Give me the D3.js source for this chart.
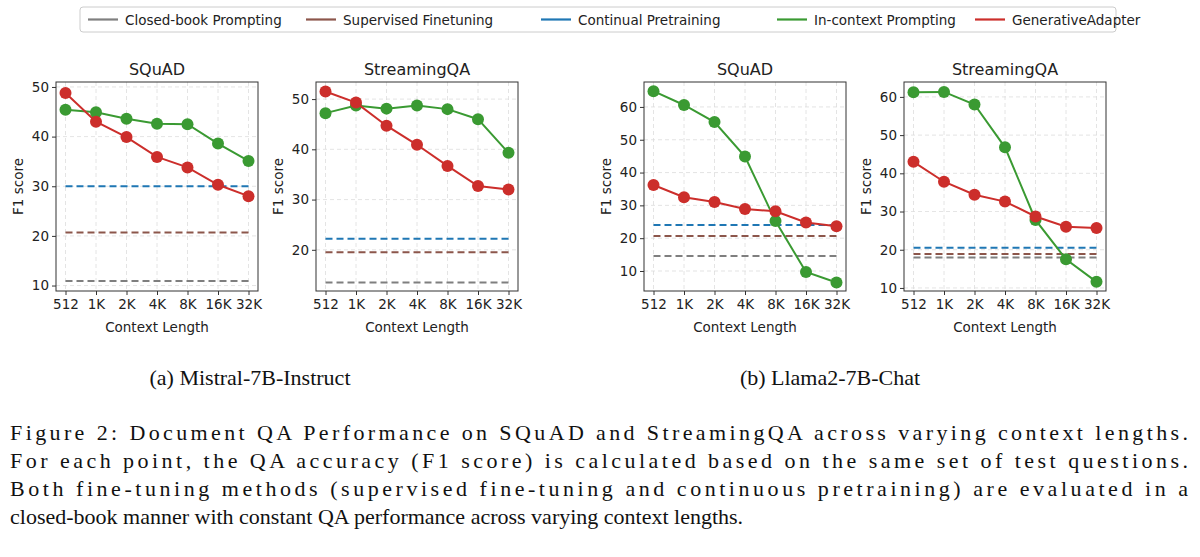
<!DOCTYPE html>
<html><head><meta charset="utf-8">
<script src="https://cdn.jsdelivr.net/npm/d3@7"></script>
<style>body{margin:0;background:#fff}</style>
</head><body><svg id="fig" width="1200" height="557"></svg>
<script>
// data
const contexts = ["512", "1K", "2K", "4K", "8K", "16K", "32K"];
const seriesNames = ["Closed-book Prompting", "Supervised Finetuning", "Continual Pretraining", "In-context Prompting", "GenerativeAdapter"];
const seriesColors = ["#7f7f7f", "#8c564b", "#1f77b4", "#3a9a32", "#cc2e2b"];

const titles = ["SQuAD", "StreamingQA", "SQuAD", "StreamingQA"];
const closedBook = [10.9, 13.5, 14.6, 18.0];
const supervised = [20.7, 19.5, 20.7, 18.9];
const continual = [30.0, 22.2, 24.0, 20.5];
const inContext = [
  [45.4, 44.9, 43.6, 42.6, 42.5, 38.6, 35.1],
  [47.2, 48.7, 48.1, 48.7, 48.0, 46.0, 39.3],
  [64.8, 60.6, 55.4, 44.9, 25.2, 9.7, 6.5],
  [61.2, 61.3, 58.0, 46.8, 27.8, 17.5, 11.6]
];
const generative = [
  [48.8, 43.0, 39.9, 35.9, 33.8, 30.3, 28.0],
  [51.5, 49.3, 44.7, 40.9, 36.7, 32.7, 32.0],
  [36.2, 32.5, 31.0, 28.9, 28.2, 24.8, 23.6],
  [43.0, 37.8, 34.4, 32.6, 28.7, 26.0, 25.7]
];
const yDomains = [[8.9, 51], [11.8, 53.4], [3.9, 67.6], [9.2, 63.9]];
const yTicks = [[10, 20, 30, 40, 50], [20, 30, 40, 50], [10, 20, 30, 40, 50, 60], [10, 20, 30, 40, 50, 60]];
const panelX = [56, 316, 644, 904];
const subCaptions = ["(a) Mistral-7B-Instruct", "(b) Llama2-7B-Chat"];
const captionLines = [
  "Figure 2: Document QA Performance on SQuAD and StreamingQA across varying context lengths.",
  "For each point, the QA accuracy (F1 score) is calculated based on the same set of test questions.",
  "Both fine-tuning methods (supervised fine-tuning and continuous pretraining) are evaluated in a",
  "closed-book manner with constant QA performance across varying context lengths."
];

const svg = d3.select("#fig");
const sans = "DejaVu Sans";
const serif = "Liberation Serif";
const pw = 202, plotTop = 82, plotBottom = 291;

// legend
const lg = svg.append("g");
lg.append("rect").attr("x", 80).attr("y", 7).attr("width", 1036).attr("height", 25)
  .attr("fill", "#fff").attr("stroke", "#ccc").attr("rx", 3);
const legendX = [88, 306, 541, 777, 975];
seriesNames.forEach((n, i) => {
  lg.append("line").attr("x1", legendX[i]).attr("x2", legendX[i] + 30).attr("y1", 19.5).attr("y2", 19.5)
    .attr("stroke", seriesColors[i]).attr("stroke-width", 2.2);
  lg.append("text").attr("x", legendX[i] + 37).attr("y", 24.5).text(n)
    .attr("font-family", sans).attr("font-size", 13.5).attr("fill", "#222");
});

titles.forEach((t, p) => {
  const x0 = panelX[p];
  const x = d3.scalePoint().domain(contexts).range([x0 + 9.5, x0 + pw - 9.5]);
  const y = d3.scaleLinear().domain(yDomains[p]).range([plotBottom, plotTop]);
  const g = svg.append("g");

  // grid
  g.selectAll(".gx").data(contexts).join("line")
    .attr("x1", d => x(d)).attr("x2", d => x(d)).attr("y1", plotTop).attr("y2", plotBottom)
    .attr("stroke", "#ddd").attr("stroke-dasharray", "4,3").attr("stroke-width", 0.8);
  g.selectAll(".gy").data(yTicks[p]).join("line")
    .attr("x1", x0).attr("x2", x0 + pw).attr("y1", d => y(d)).attr("y2", d => y(d))
    .attr("stroke", "#ddd").attr("stroke-dasharray", "4,3").attr("stroke-width", 0.8);

  // axes
  const ax = g.append("g").attr("transform", `translate(0,${plotBottom})`)
    .call(d3.axisBottom(x).tickSize(4).tickPadding(4));
  const ay = g.append("g").attr("transform", `translate(${x0},0)`)
    .call(d3.axisLeft(y).tickValues(yTicks[p]).tickSize(4).tickPadding(3));
  [ax, ay].forEach(a => {
    a.select(".domain").remove();
    a.selectAll("text").attr("font-family", sans).attr("font-size", 13.5).attr("fill", "#222");
    a.selectAll("line").attr("stroke", "#333");
  });
  g.append("rect").attr("x", x0).attr("y", plotTop).attr("width", pw).attr("height", plotBottom - plotTop)
    .attr("fill", "none").attr("stroke", "#333").attr("stroke-width", 1);

  // constant baselines
  [closedBook, supervised, continual].forEach((arr, i) => {
    g.append("line").attr("x1", x(contexts[0])).attr("x2", x(contexts[6]))
      .attr("y1", y(arr[p])).attr("y2", y(arr[p]))
      .attr("stroke", seriesColors[i]).attr("stroke-width", 2).attr("stroke-dasharray", "7,4");
  });

  // line series
  [[inContext[p], 3], [generative[p], 4]].forEach(([vals, ci]) => {
    const line = d3.line().x((d, i) => x(contexts[i])).y(d => y(d));
    g.append("path").datum(vals).attr("d", line).attr("fill", "none")
      .attr("stroke", seriesColors[ci]).attr("stroke-width", 2);
    g.selectAll(".pt" + ci).data(vals).join("circle")
      .attr("cx", (d, i) => x(contexts[i])).attr("cy", d => y(d)).attr("r", 6)
      .attr("fill", seriesColors[ci]);
  });

  // labels
  g.append("text").attr("x", x0 + pw / 2).attr("y", 75).attr("text-anchor", "middle")
    .attr("font-family", sans).attr("font-size", 16).attr("fill", "#222").text(t);
  g.append("text").attr("x", x0 + pw / 2).attr("y", 332).attr("text-anchor", "middle")
    .attr("font-family", sans).attr("font-size", 13.5).attr("fill", "#222").text("Context Length");
  g.append("text").attr("transform", `translate(${x0 - 33},${(plotTop + plotBottom) / 2}) rotate(-90)`)
    .attr("text-anchor", "middle").attr("font-family", sans).attr("font-size", 13.5)
    .attr("fill", "#222").text("F1 score");
});

// sub captions
[[250, 0], [830, 1]].forEach(([cx, i]) => {
  svg.append("text").attr("x", cx).attr("y", 385).attr("text-anchor", "middle")
    .attr("font-family", serif).attr("font-size", 22).attr("fill", "#111").text(subCaptions[i]);
});

// caption
captionLines.forEach((l, i) => {
  const t = svg.append("text").attr("x", 10).attr("y", 440 + i * 28)
    .attr("font-family", serif).attr("font-size", 22).attr("fill", "#111").text(l);
  if (i < 3) t.attr("textLength", 1178).attr("lengthAdjust", "spacing");
});
</script></body></html>
